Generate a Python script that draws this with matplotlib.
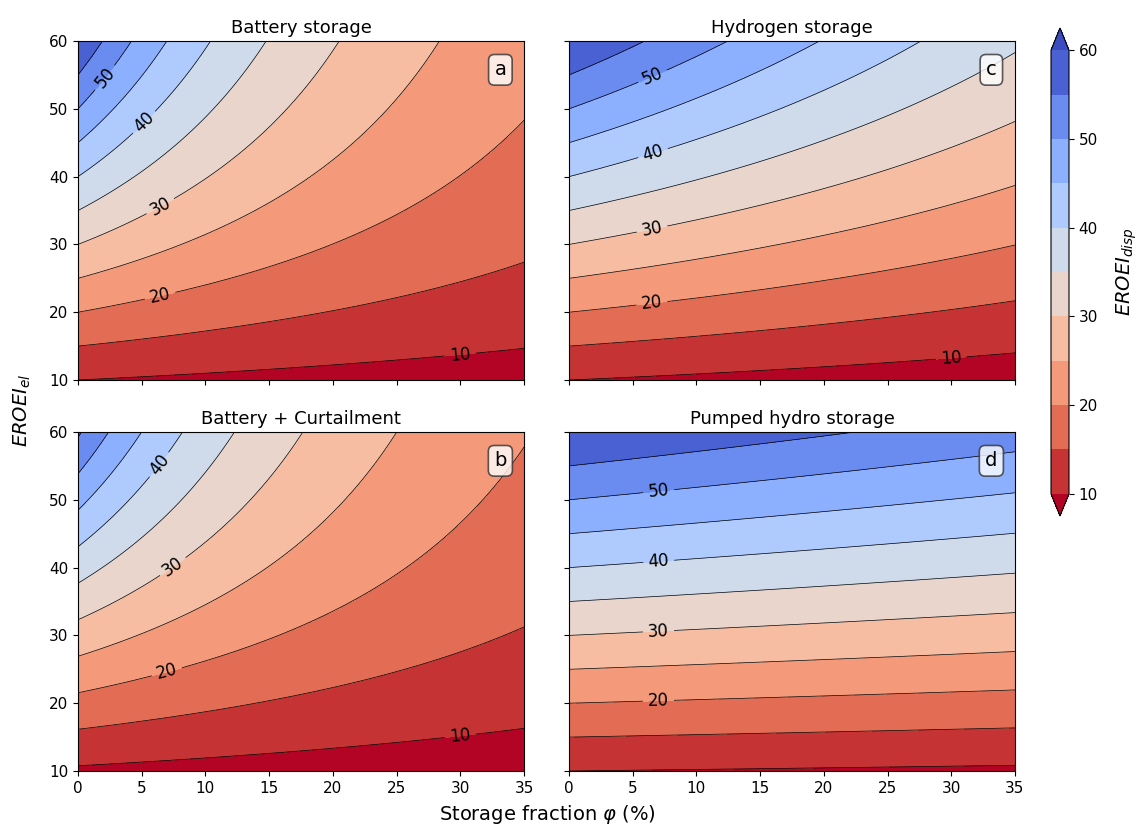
import numpy as np
import matplotlib
matplotlib.use('Agg')
import matplotlib.pyplot as plt

# ---- data / model parameters ----
panel_titles = ['Battery storage', 'Hydrogen storage', 'Battery + Curtailment', 'Pumped hydro storage']
panel_letters = ['a', 'c', 'b', 'd']
round_trip_eff = [0.856, 0.314, 0.856, 0.812]     # storage round-trip efficiency
esoi = [13.07, 76.8, 13.07, 300.0]                 # energy stored on invested
curtail_factor = [1.0, 1.0, 1.077, 1.0]            # extra overbuild for curtailment
storage_fraction_pct = np.linspace(0, 35, 351)     # x axis grid (%)
eroei_el = np.linspace(10, 60, 351)                # y axis grid
levels = [10, 15, 20, 25, 30, 35, 40, 45, 50, 55, 60]
label_levels = [10, 20, 30, 40, 50]
x_ticks = [0, 5, 10, 15, 20, 25, 30, 35]
y_ticks = [10, 20, 30, 40, 50, 60]
cbar_ticks = [10, 20, 30, 40, 50, 60]
label_positions = [
    [(30, 13.3), (6.5, 22), (6.5, 35.5), (6.5, 45.5), (2.5, 54)],
    [(30, 13.2), (6.5, 21.5), (6.5, 32.5), (6.5, 44), (6.5, 55)],
    [(30, 15), (7, 24.5), (7.5, 40), (6.5, 55)],
    [(7, 21.5), (7, 31.5), (7, 42), (7, 52)],
]

W, H = 1143, 834
fig = plt.figure(figsize=(W / 100, H / 100), dpi=100)

def px_axes(l, t, r, b):
    return fig.add_axes([l / W, 1 - b / H, (r - l) / W, (b - t) / H])

boxes = [(78, 41, 524, 380), (569, 41, 1015, 380),
         (78, 432, 524, 771), (569, 432, 1015, 771)]

PHI, E = np.meshgrid(storage_fraction_pct, eroei_el)
cs_last = None
for i, box in enumerate(boxes):
    ax = px_axes(*box)
    phi = PHI / 100.0
    eta = round_trip_eff[i]
    Z = (1 - phi * (1 - eta)) / (1.0 / E + phi / esoi[i]) / curtail_factor[i]
    cf = ax.contourf(PHI, E, Z, levels=levels, cmap='coolwarm_r', extend='both')
    plain = [lv for lv in levels if lv not in label_levels]
    ax.contour(PHI, E, Z, levels=plain, colors='k', linewidths=0.5)
    lbl = [lv for lv in label_levels if Z.min() < lv < Z.max()]
    cl = ax.contour(PHI, E, Z, levels=lbl, colors='k', linewidths=0.5)
    ax.clabel(cl, inline=True, fontsize=12, fmt='%d',
              manual=label_positions[i])
    cs_last = cf
    ax.set_xlim(0, 35)
    ax.set_ylim(10, 60)
    ax.set_xticks(x_ticks)
    ax.set_yticks(y_ticks)
    ax.tick_params(labelsize=11)
    if i in (0, 1):
        ax.tick_params(labelbottom=False)
    if i in (1, 3):
        ax.tick_params(labelleft=False)
    ax.set_title(panel_titles[i], fontsize=13)
    ax.text(0.947, 0.915, panel_letters[i], transform=ax.transAxes, fontsize=14,
            ha='center', va='center',
            bbox=dict(boxstyle='round,pad=0.3', facecolor='white', alpha=0.8,
                      edgecolor='#333333', linewidth=1.2))

cax = fig.add_axes([1051 / W, 1 - 516 / H, 18 / W, 488 / H])
cb = fig.colorbar(cs_last, cax=cax, ticks=cbar_ticks)
cb.ax.tick_params(labelsize=11)
cb.set_label(r'$EROEI_{disp}$', fontsize=14, labelpad=12)

fig.text(22 / W, 1 - 410 / H, r'$EROEI_{el}$', rotation=90, fontsize=14,
         ha='center', va='center')
fig.text(547 / W, 1 - 815 / H, r'Storage fraction $\varphi$ (%)', fontsize=14,
         ha='center', va='center')

fig.savefig('out.png', dpi=100)
